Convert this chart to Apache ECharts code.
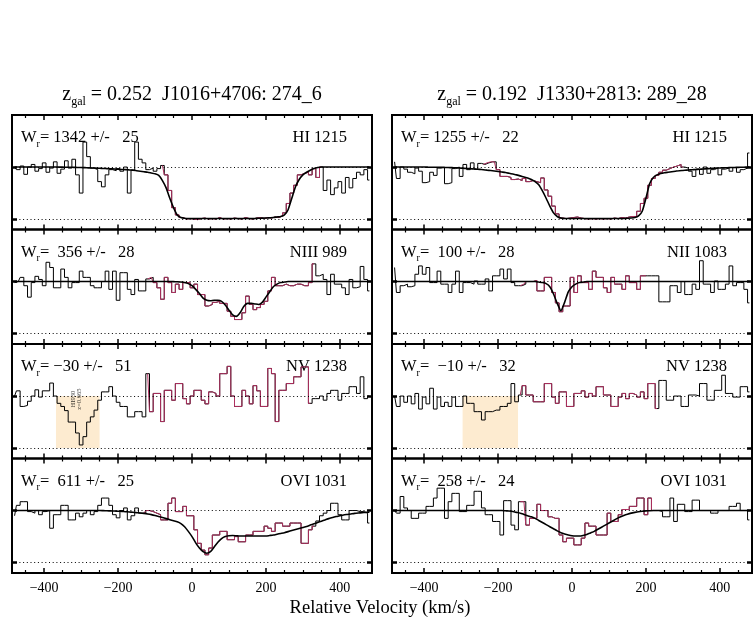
<!DOCTYPE html>
<html><head><meta charset="utf-8">
<script src="https://cdn.jsdelivr.net/npm/echarts@6/dist/echarts.min.js"></script>
<style>html,body{margin:0;padding:0;background:#fff}#c{width:756px;height:620px}</style>
</head><body><div id="c"></div>
<script>
// ---------- data ----------
const velocity = [-480,-470,-460,-450,-440,-430,-420,-410,-400,-390,-380,-370,-360,-350,-340,-330,-320,-310,-300,-290,-280,-270,-260,-250,-240,-230,-220,-210,-200,-190,-180,-170,-160,-150,-140,-130,-120,-110,-100,-90,-80,-70,-60,-50,-40,-30,-20,-10,0,10,20,30,40,50,60,70,80,90,100,110,120,130,140,150,160,170,180,190,200,210,220,230,240,250,260,270,280,290,300,310,320,330,340,350,360,370,380,390,400,410,420,430,440,450,460,470,480];

const xMajorTicks = [-400,-200,0,200,400];
const xMinorTicks = [-450,-350,-300,-250,-150,-100,-50,50,100,150,250,300,350,450];
const yTicks = [0,1];

const columnTitles = [
  {gal:'0.252', name:'J1016+4706: 274_6'},
  {gal:'0.192', name:'J1330+2813: 289_28'}
];
const ionLabels = ['HI 1215','HI 1215','NIII 989','NII 1083','NV 1238','NV 1238','OVI 1031','OVI 1031'];
const wrLabels = ['= 1342 +/-   25','= 1255 +/-   22','=  356 +/-   28','=  100 +/-   28','= \u221230 +/-   51','=  \u221210 +/-   32','=  611 +/-   25','=  258 +/-   24'];

// integration windows (red) [vmin, vmax]
const windowL1 = [-80,350],  windowR1 = [-240,300];
const windowL2 = [-120,330], windowR2 = [-140,200];
const windowL3 = [-120,320], windowR3 = [-140,230];
const windowL4 = [-130,330], windowR4 = [-140,230];
// blended-line shading [vmin, vmax] (flux 0..1)
const shadeL3 = [-368,-250], shadeR3 = [-296,-146];
const blendNote = ['HI930', 'z=0.665'];
const blendNotePos = [-313, 0.94];

const fluxL1 = [1.0,0.95,1.02,0.86,1.0,1.05,0.92,0.97,1.08,0.9,
 0.98,1.1,0.88,0.96,1.12,0.98,1.15,0.85,0.5,1.48,
 1.2,0.98,0.95,0.72,0.62,0.85,0.95,0.93,0.97,0.92,
 1.0,0.5,0.94,1.48,1.15,1.08,0.95,0.98,0.92,0.97,
 1.03,0.85,0.55,0.22,0.08,0.03,0.0,0.01,0.0,-0.01,
 0.01,0.02,0.0,0.01,0.0,0.03,0.0,0.01,0.0,0.02,
 0.01,0.0,0.03,0.01,0.0,0.02,0.03,0.01,0.03,0.02,
 0.04,0.03,0.06,0.12,0.3,0.5,0.65,0.85,0.88,0.9,
 0.85,0.97,0.8,1.0,0.55,0.75,0.47,0.6,0.72,0.5,
 0.8,0.6,0.78,0.9,0.85,0.95,0.75];
const modelL1 = [1,1,1,1,1,1,1,1,1,1,
 1,1,0.999,0.998,0.997,0.996,0.994,0.992,0.99,0.988,
 0.985,0.982,0.979,0.976,0.973,0.97,0.966,0.962,0.958,0.954,
 0.95,0.945,0.94,0.93,0.92,0.91,0.9,0.885,0.87,0.84,
 0.74,0.6,0.4,0.22,0.08,0.03,0.015,0.01,0.01,0.01,
 0.01,0.01,0.01,0.01,0.01,0.01,0.01,0.01,0.01,0.01,
 0.01,0.01,0.01,0.01,0.01,0.012,0.015,0.018,0.02,0.025,
 0.03,0.04,0.05,0.08,0.18,0.4,0.62,0.76,0.85,0.9,
 0.94,0.97,0.99,1,1,1,1,1,1,1,
 1,1,1,1,1,1,1];

const fluxR1 = [1.1,0.78,1.0,0.96,0.9,0.87,0.98,0.92,0.7,0.72,
 0.9,0.84,0.98,1.0,0.68,0.7,0.97,1.0,0.82,1.05,
 0.95,1.08,0.96,1.07,1.05,1.08,1.1,1.1,0.95,0.82,
 0.82,0.8,0.76,0.77,0.74,0.78,0.72,0.74,0.72,0.7,
 0.79,0.56,0.44,0.25,0.1,0.02,0.01,0.02,0.03,0.04,
 0.02,0.01,0.0,0.01,0.0,0.01,0.0,0.01,0.0,0.02,
 0.01,0.03,0.02,0.04,0.05,0.05,0.15,0.3,0.4,0.65,
 0.78,0.84,0.9,0.94,0.97,1.0,1.02,1.05,1.0,0.98,
 0.92,0.82,0.96,0.86,1.0,0.88,0.95,0.98,0.85,0.96,
 0.98,0.92,0.99,0.9,0.95,0.98,1.27];
const modelR1 = [1,1,1,1,1,1,1,1,1,0.998,
 0.997,0.996,0.995,0.993,0.991,0.989,0.987,0.984,0.98,0.975,
 0.97,0.965,0.96,0.955,0.948,0.94,0.933,0.925,0.915,0.905,
 0.895,0.88,0.865,0.85,0.83,0.81,0.79,0.76,0.72,0.66,
 0.54,0.4,0.25,0.12,0.05,0.02,0.01,0.01,0.01,0.01,
 0.01,0.01,0.01,0.01,0.01,0.01,0.01,0.01,0.01,0.01,
 0.01,0.01,0.01,0.015,0.02,0.03,0.06,0.15,0.4,0.68,
 0.8,0.85,0.875,0.89,0.9,0.91,0.92,0.93,0.935,0.94,
 0.945,0.95,0.955,0.96,0.965,0.97,0.975,0.98,0.982,0.985,
 0.987,0.99,0.992,0.994,0.996,0.998,1];

const fluxL2 = [0.98,1.0,1.08,0.92,0.7,0.98,1.1,1.04,0.92,1.37,
 1.27,0.88,0.88,1.24,1.08,0.88,0.98,0.98,1.2,1.08,
 1.08,0.92,0.88,0.88,1.0,1.2,0.85,1.2,0.64,1.17,
 1.17,0.85,0.75,1.04,0.82,0.82,1.05,1.08,0.98,0.88,
 0.66,1.08,0.98,0.79,0.95,0.85,0.98,0.98,0.88,0.95,
 0.75,0.75,0.53,0.56,0.6,0.62,0.58,0.58,0.43,0.33,
 0.27,0.27,0.4,0.72,0.56,0.46,0.5,0.56,0.62,0.82,
 1.08,0.92,0.92,0.95,0.92,0.92,0.95,0.95,0.92,0.92,
 0.98,1.34,1.11,1.14,1.04,0.75,1.14,0.95,0.95,0.88,
 0.75,1.04,0.88,0.9,1.29,1.04,0.82];
const modelL2 = [1,1,1,1,1,1,1,1,1,1,
 1,1,1,1,1,1,1,1,1,1,
 1,1,1,1,1,1,1,1,1,1,
 1,1,1,1,1,1,1,1,1,1,
 1,1,1,0.998,0.995,0.99,0.98,0.96,0.92,0.85,
 0.77,0.68,0.64,0.63,0.64,0.64,0.62,0.55,0.45,0.36,
 0.33,0.4,0.52,0.58,0.58,0.57,0.56,0.6,0.7,0.8,
 0.9,0.95,0.98,0.99,1,1,1,1,1,1,
 1,1,1,1,1,1,1,1,1,1,
 1,1,1,1,1,1,1];

const fluxR2 = [1.27,0.79,0.92,0.95,0.9,0.92,1.14,1.3,1.14,1.27,
 0.98,0.98,1.2,0.95,0.95,0.79,0.95,1.2,0.79,0.98,
 0.98,0.95,1.01,0.95,0.95,1.05,0.82,1.11,1.11,1.24,
 1.05,1.24,0.98,0.92,0.92,0.95,1.0,1.0,1.02,0.82,
 0.82,1.08,1.08,0.79,0.59,0.42,0.53,0.53,1.08,0.79,
 1.11,0.98,0.98,0.85,1.2,1.08,1.08,0.88,0.79,1.08,
 0.95,0.95,0.85,1.11,0.98,0.98,0.85,1.11,1.11,1.11,
 1.11,1.11,0.61,0.61,0.61,0.92,0.92,0.79,1.0,0.75,
 0.75,0.95,0.85,1.4,0.95,0.95,0.79,1.01,0.85,0.85,
 0.95,1.3,0.92,0.98,0.98,0.85,0.59];
const modelR2 = [1,1,1,1,1,1,1,1,1,1,
 1,1,1,1,1,1,1,1,1,1,
 1,1,1,1,1,1,1,1,1,1,
 1,1,1,1,1,1,1,1,1,0.99,
 0.98,0.96,0.9,0.76,0.58,0.44,0.6,0.8,0.9,0.95,
 0.98,0.99,1,1,1,1,1,1,1,1,
 1,1,1,1,1,1,1,1,1,1,
 1,1,1,1,1,1,1,1,1,1,
 1,1,1,1,1,1,1,1,1,1,
 1,1,1,1,1,1,1];

const fluxL3 = [1.0,1.1,0.8,0.82,0.9,1.0,1.12,0.98,1.1,1.1,
 1.25,1.0,0.86,0.8,0.72,0.5,0.5,0.29,0.06,0.22,
 0.5,0.6,0.73,0.92,1.08,1.08,1.18,1.0,0.88,0.8,
 0.8,0.6,0.6,0.7,0.7,0.6,1.43,0.7,1.05,1.05,
 0.51,1.11,1.11,0.92,1.24,1.24,0.95,0.85,1.0,1.11,
 1.11,0.92,0.85,1.08,1.05,1.0,1.43,1.43,1.57,1.0,
 0.8,0.8,1.11,1.0,0.85,1.2,1.1,0.8,0.8,1.53,
 1.43,0.51,1.11,1.11,1.24,1.24,1.37,1.37,1.56,1.56,
 0.86,0.95,0.95,1.0,0.92,1.05,1.11,1.11,0.92,1.05,
 1.05,1.18,1.18,1.05,1.37,0.95,1.0];

const fluxR3 = [1.0,0.8,1.0,0.88,1.0,0.85,1.05,0.75,0.98,0.85,
 1.15,0.75,0.98,0.8,0.88,0.8,0.98,0.8,0.8,1.0,
 0.86,0.86,0.7,0.7,0.54,0.7,0.7,0.73,0.73,0.8,
 0.8,0.86,1.24,0.89,1.02,1.2,1.02,1.02,0.89,0.89,
 0.89,1.24,1.24,0.98,0.86,1.08,1.08,0.8,0.8,1.05,
 1.05,1.1,0.98,1.05,1.0,1.18,1.18,1.02,1.02,0.8,
 0.8,0.98,1.05,0.95,1.05,1.02,0.98,1.08,0.95,1.24,
 1.24,0.76,1.3,1.3,0.92,0.92,1.0,1.0,0.8,0.8,
 1.02,1.02,1.0,1.24,1.24,0.92,0.92,1.11,1.11,1.4,
 1.05,1.05,0.98,0.98,1.18,1.18,1.08];

const fluxL4 = [0.9,1.1,1.17,1.17,0.98,0.95,1.0,0.92,0.98,1.0,
 0.66,0.92,0.92,1.1,1.1,0.82,0.82,0.95,0.88,0.95,
 1.0,0.92,0.98,1.1,1.24,1.24,1.1,0.92,0.86,1.0,
 1.05,0.82,0.9,1.05,0.95,0.95,1.0,0.98,0.95,0.92,
 0.82,0.82,1.14,1.24,0.98,0.98,1.08,0.9,0.9,0.63,
 0.37,0.24,0.15,0.28,0.53,0.53,0.6,0.6,0.44,0.44,
 0.5,0.4,0.4,0.53,0.53,0.6,0.6,0.6,0.7,0.66,
 0.6,0.76,0.76,0.7,0.7,0.76,0.76,0.76,0.37,0.37,
 0.63,0.7,0.8,0.9,0.95,1.0,1.14,1.14,0.92,0.82,
 0.82,1.0,1.0,0.98,0.98,0.95,0.76];
const modelL4 = [1,1,1,1,1,1,1,1,1,1,
 1,1,1,1,1,1,1,1,1,1,
 1,1,1,1,0.998,0.996,0.993,0.99,0.987,0.983,
 0.978,0.973,0.967,0.96,0.953,0.945,0.935,0.922,0.905,0.885,
 0.865,0.845,0.825,0.805,0.785,0.75,0.69,0.6,0.5,0.38,
 0.28,0.21,0.18,0.21,0.3,0.39,0.46,0.5,0.515,0.52,
 0.515,0.51,0.51,0.51,0.51,0.51,0.51,0.51,0.51,0.52,
 0.53,0.545,0.56,0.575,0.595,0.615,0.635,0.655,0.675,0.695,
 0.72,0.745,0.77,0.795,0.82,0.845,0.865,0.885,0.9,0.915,
 0.925,0.935,0.945,0.952,0.958,0.964,0.97];

const fluxR4 = [1.0,0.95,1.27,1.05,1.0,0.85,0.85,0.95,0.95,1.08,
 1.08,1.24,1.43,1.43,0.85,1.17,1.33,1.33,0.98,0.98,
 1.1,1.1,1.37,1.37,1.05,0.92,0.92,0.79,0.79,0.53,
 1.19,1.19,0.72,0.63,1.17,1.17,0.72,0.85,0.85,1.12,
 1.0,1.0,0.88,0.85,0.85,0.53,0.4,0.47,0.47,0.34,
 0.34,0.47,0.76,0.7,0.7,0.53,0.53,0.53,0.95,0.79,
 0.79,0.92,1.02,1.02,1.08,1.08,1.24,1.24,0.92,1.24,
 1.0,1.0,0.98,0.88,0.88,1.24,0.79,1.12,1.12,0.98,
 0.98,1.2,1.2,1.0,1.0,1.0,0.95,0.95,1.0,1.0,
 1.0,1.08,1.08,1.14,1.0,1.0,0.82];
const modelR4 = [1,1,1,1,1,1,1,1,1,1,
 1,1,1,1,1,1,1,1,1,1,
 1,1,1,1,1,1,1,1,1,1,
 0.995,0.99,0.98,0.965,0.95,0.925,0.9,0.88,0.85,0.81,
 0.77,0.73,0.69,0.65,0.61,0.575,0.55,0.53,0.515,0.51,
 0.51,0.52,0.54,0.57,0.6,0.64,0.68,0.72,0.76,0.8,
 0.84,0.875,0.905,0.93,0.95,0.965,0.978,0.987,0.993,0.997,
 1,1,1,1,1,1,1,1,1,1,
 1,1,1,1,1,1,1,1,1,1,
 1,1,1,1,1,1,1];

// ---------- layout / style ----------
const FONT = '"Liberation Serif","DejaVu Serif",serif';
const RED = '#b03060';
const SHADE = '#fdebd0';
const XMIN = -487, XMAX = 487, YMIN = -0.2, YMAX = 2.0;
const colLeft = [12, 392], GW = 360;
const rowTop = [115, 229.5, 344, 458.5], GH = 114.5;

const panels = [
  {flux: fluxL1, model: modelL1, win: windowL1},
  {flux: fluxR1, model: modelR1, win: windowR1},
  {flux: fluxL2, model: modelL2, win: windowL2},
  {flux: fluxR2, model: modelR2, win: windowR2},
  {flux: fluxL3, model: null, win: windowL3, shade: shadeL3, note: blendNote, notePos: blendNotePos},
  {flux: fluxR3, model: null, win: windowR3, shade: shadeR3},
  {flux: fluxL4, model: modelL4, win: windowL4},
  {flux: fluxR4, model: modelR4, win: windowR4}
];

const fmt = v => v < 0 ? '\u2212' + Math.abs(v) : String(v);
const grids = [], xAxes = [], yAxes = [], series = [], graphics = [];

panels.forEach((p, i) => {
  const col = i % 2, row = Math.floor(i / 2);
  const left = colLeft[col], top = rowTop[row];
  grids.push({left: left, top: top, width: GW, height: GH, show: true,
    borderColor: '#000', borderWidth: 2, backgroundColor: 'transparent'});
  const xi = xAxes.length;
  const mkX = (pos, vals, len, w, labels) => ({
    type: 'value', gridIndex: i, position: pos, min: XMIN, max: XMAX,
    axisLine: {show: false, onZero: false}, splitLine: {show: false},
    axisTick: {show: true, inside: true, length: len, customValues: vals,
      lineStyle: {color: '#000', width: w}},
    axisLabel: labels ? {show: true, customValues: xMajorTicks, color: '#000',
      fontFamily: FONT, fontSize: 14, margin: 8, formatter: fmt} : {show: false}
  });
  xAxes.push(mkX('bottom', xMajorTicks, 5, 1.5, row === 3));
  xAxes.push(mkX('bottom', xMinorTicks, 3, 1.2, false));
  xAxes.push(mkX('top', xMajorTicks, 5, 1.5, false));
  xAxes.push(mkX('top', xMinorTicks, 3, 1.2, false));
  const yi = yAxes.length;
  const mkY = pos => ({
    type: 'value', gridIndex: i, position: pos, min: YMIN, max: YMAX,
    axisLine: {show: false, onZero: false}, splitLine: {show: false}, axisLabel: {show: false},
    axisTick: {show: true, inside: true, length: 5, customValues: yTicks,
      lineStyle: {color: '#000', width: 2.5}}
  });
  yAxes.push(mkY('left'));
  yAxes.push(mkY('right'));

  if (p.shade) {
    series.push({type: 'line', xAxisIndex: xi, yAxisIndex: yi, data: [], z: 1, silent: true,
      markArea: {silent: true, itemStyle: {color: SHADE, opacity: 1}, label: {show: false},
        data: [[{xAxis: p.shade[0], yAxis: 0}, {xAxis: p.shade[1], yAxis: 1}]]}});
  }
  if (p.note) {
    series.push({type: 'scatter', xAxisIndex: xi, yAxisIndex: yi, z: 6, silent: true,
      symbol: 'circle', symbolSize: 1, itemStyle: {color: 'rgba(0,0,0,0)'},
      data: [p.notePos],
      label: {show: true, position: 'inside', rotate: 90, formatter: p.note.join('\n'),
        color: '#000', fontFamily: FONT, fontSize: 6.5, lineHeight: 6.5,
        align: 'center', verticalAlign: 'middle'}});
  }
  series.push({type: 'line', xAxisIndex: xi, yAxisIndex: yi, z: 3, step: 'middle',
    symbol: 'none', silent: true,
    data: velocity.map((v, k) => [v, p.flux[k]]),
    lineStyle: {color: '#000', width: 1},
    markLine: {silent: true, symbol: ['none', 'none'], label: {show: false},
      lineStyle: {color: '#000', width: 1, type: [1, 2.7]},
      data: [{yAxis: 0}, {yAxis: 1}]}});
  series.push({type: 'line', xAxisIndex: xi, yAxisIndex: yi, z: 4, step: 'middle',
    symbol: 'none', silent: true,
    data: velocity.map((v, k) => [v, p.flux[k]]).filter(d => d[0] >= p.win[0] && d[0] <= p.win[1]),
    lineStyle: {color: RED, width: 1}});
  if (p.model) {
    series.push({type: 'line', xAxisIndex: xi, yAxisIndex: yi, z: 5, smooth: 0.2,
      symbol: 'none', silent: true,
      data: velocity.map((v, k) => [v, p.model[k]]),
      lineStyle: {color: '#000', width: 1.6}});
  }

  // panel texts
  graphics.push({type: 'text', x: left + 9, y: top + 23, silent: true,
    style: {text: '{a|W}{s|r}{a|' + wrLabels[i] + '}', fill: '#000',
      align: 'left', verticalAlign: 'middle',
      rich: {a: {fontFamily: FONT, fontSize: 16.5, fill: '#000'},
             s: {fontFamily: FONT, fontSize: 10, fill: '#000', padding: [12, 0, 0, 0]}}}});
  graphics.push({type: 'text', x: left + 335, y: top + 23, silent: true,
    style: {text: ionLabels[i], fill: '#000', font: '16.5px ' + FONT,
      align: 'right', verticalAlign: 'middle'}});
});

columnTitles.forEach((t, c) => {
  graphics.push({type: 'text', x: colLeft[c] + GW / 2, y: 95, silent: true,
    style: {text: '{a|z}{s|gal}{a| = ' + t.gal + '  ' + t.name + '}', fill: '#000',
      align: 'center', verticalAlign: 'middle',
      rich: {a: {fontFamily: FONT, fontSize: 20, fill: '#000'},
             s: {fontFamily: FONT, fontSize: 12, fill: '#000', padding: [14, 0, 0, 0]}}}});
});
graphics.push({type: 'text', x: 380, y: 608, silent: true,
  style: {text: 'Relative Velocity (km/s)', fill: '#000', font: '18.5px ' + FONT,
    align: 'center', verticalAlign: 'middle'}});

const chart = echarts.init(document.getElementById('c'));
chart.setOption({
  animation: false,
  backgroundColor: '#fff',
  textStyle: {fontFamily: FONT},
  grid: grids, xAxis: xAxes, yAxis: yAxes, series: series, graphic: graphics
});
</script></body></html>
